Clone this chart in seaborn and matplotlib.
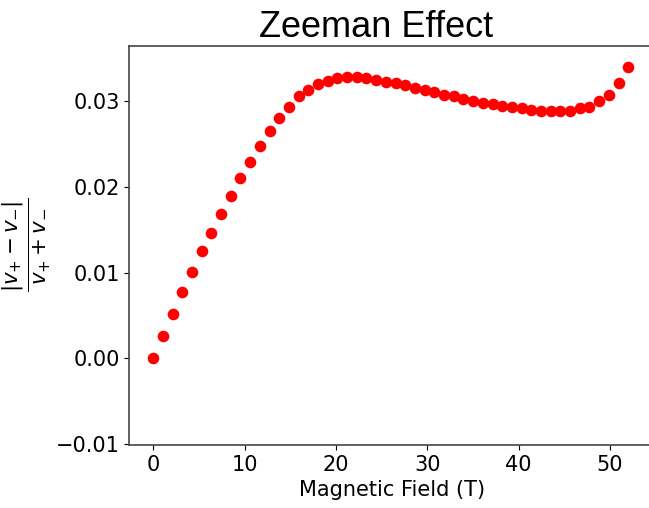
import numpy as np
import pandas as pd
import matplotlib
matplotlib.use("Agg")
import matplotlib.pyplot as plt
import seaborn as sns

field = np.linspace(0, 52, 50)
ratio = [0.0000, 0.0026, 0.0052, 0.0077, 0.0101, 0.0125, 0.0147, 0.0169, 0.0190, 0.0211,
         0.0229, 0.0248, 0.0266, 0.0281, 0.0294, 0.0306, 0.0313, 0.0320, 0.0324, 0.0327,
         0.0328, 0.0328, 0.0327, 0.0325, 0.0323, 0.0321, 0.0319, 0.0316, 0.0313, 0.0311,
         0.0308, 0.0306, 0.0303, 0.0301, 0.0298, 0.0297, 0.0295, 0.0293, 0.0292, 0.0290,
         0.0289, 0.0289, 0.0289, 0.0289, 0.0292, 0.0294, 0.0300, 0.0308, 0.0321, 0.0340]
xticks = [0, 10, 20, 30, 40, 50]
yticks = [-0.01, 0.00, 0.01, 0.02, 0.03]

df = pd.DataFrame({"field": field, "ratio": ratio})

fig = plt.figure(figsize=(6.49, 5.08), dpi=100)
ax = fig.add_axes([0.1995, 0.124, 0.81, 0.786])
sns.scatterplot(data=df, x="field", y="ratio", ax=ax, color="red", s=70, linewidth=0)
ax.set_xlim(-2.6, 54.95)
ax.set_ylim(-0.0101, 0.0365)
ax.set_xticks(xticks)
ax.set_yticks(yticks)
ax.set_yticklabels(["\u22120.01", "0.00", "0.01", "0.02", "0.03"])
ax.tick_params(labelsize=15)
ax.set_xlabel("Magnetic Field (T)", fontsize=15)
ax.set_ylabel(r"$\frac{|v_{+}-v_{-}|}{v_{+}+v_{-}}$", fontsize=22, labelpad=2)
for name, sp in ax.spines.items():
    sp.set_visible(True)
    sp.set_color("#444444")
    sp.set_linewidth(1.2)
ax.set_title("Zeeman Effect", fontsize=26, family=["Liberation Sans", "DejaVu Sans"], x=0.47)
fig.savefig("out.png", dpi=100)
